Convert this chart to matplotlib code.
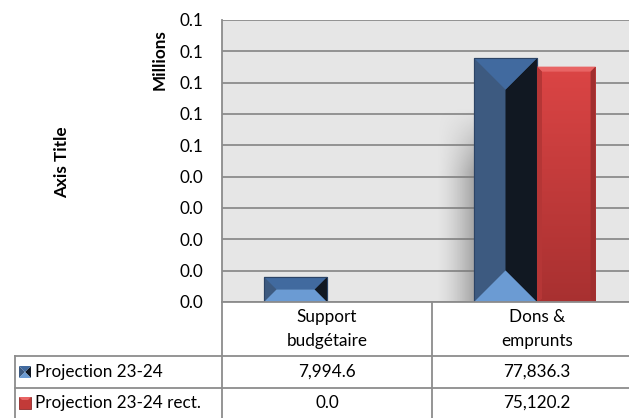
import matplotlib
matplotlib.use('Agg')
import matplotlib.pyplot as plt
import numpy as np
from matplotlib.patches import Polygon, Rectangle
from matplotlib.lines import Line2D
from decimal import Decimal, ROUND_HALF_UP

categories = ["Support\nbudgétaire", "Dons &\nemprunts"]
series_names = ["Projection 23-24", "Projection 23-24 rect."]
proj = [7994.6, 77836.3]
proj_rect = [0.0, 75120.2]
y_ticks = [0, 10000, 20000, 30000, 40000, 50000, 60000, 70000, 80000, 90000]

plt.rcParams['font.family'] = ['Lato', 'DejaVu Sans']
FS = 12.3

W, H = 629, 418
fig = plt.figure(figsize=(W / 100, H / 100), dpi=100)
fig.patch.set_facecolor('white')


def fx(px):
    return px / W


def fy(py):
    return 1 - py / H


# plot area (extends past the right edge like the original)
left, right, top, bottom = 222, 642, 20, 302
ax = fig.add_axes([fx(left), fy(bottom), fx(right - left), (bottom - top) / H])
ax.set_facecolor('#e6e6e6')
ax.set_xlim(-0.5, 1.5)
ax.set_ylim(0, 90000)
ax.set_yticks(y_ticks)
ax.set_yticklabels([str(Decimal(v / 1e6).quantize(Decimal('0.1'), rounding=ROUND_HALF_UP)) for v in y_ticks])
ax.tick_params(axis='y', length=0, pad=13.5, labelsize=FS)
ax.set_xticks([])
ax.yaxis.grid(True, color='#8c8c8c', linewidth=1.3)
ax.set_axisbelow(True)
for s in ['top', 'right', 'bottom']:
    ax.spines[s].set_visible(False)
ax.spines['left'].set_color('#8c8c8c')
ax.spines['left'].set_linewidth(1.3)

x = np.arange(len(categories))
bw = 0.3
bars1 = ax.bar(x - bw / 2, proj, bw, color='#3d5a80', edgecolor='#2c4466', linewidth=0.8, zorder=3)
bars2 = ax.bar(x + bw * 0.93 / 2, proj_rect, bw * 0.93, color='#c23a38', linewidth=0, zorder=3)

to_px = ax.transData.transform
to_data = ax.transData.inverted().transform

# soft shadow behind the tall bars (fades out towards the top and the left)
for b in bars1:
    if b.get_height() <= 0:
        continue
    (x0, y0) = to_px((b.get_x(), 0))
    (x1, y1) = to_px((b.get_x() + b.get_width(), b.get_height()))
    sh_top = y0 + (y1 - y0) * 0.8
    if sh_top - y0 < 40:
        continue
    n = 40
    img = np.zeros((n, n, 4))
    gx = np.linspace(0, 1, n)[None, :]
    gy = np.clip(np.linspace(0, 1, n)[:, None] * 3, 0, 1)
    img[..., :3] = 0.45
    img[..., 3] = 0.55 * gx ** 1.5 * gy
    (dx0, dy0) = to_data((x0 - 38, y0))
    (dx1, dy1) = to_data((x0, sh_top))
    ax.imshow(img, extent=[dx0, dx1, dy0, dy1], aspect='auto', zorder=2, interpolation='bilinear')

# bevelled faces for the blue series
for b in bars1:
    (x0, y0) = to_px((b.get_x(), 0))
    (x1, y1) = to_px((b.get_x() + b.get_width(), b.get_height()))
    d = min(x1 - x0, y1 - y0) / 2
    il = (x0 + d, y1 - d)
    ir = (x1 - d, y1 - d)
    bl = (x0 + d, y0 + d)
    br = (x1 - d, y0 + d)
    if (y1 - y0) < (x1 - x0):
        il = (x0 + d, (y0 + y1) / 2)
        ir = (x1 - d, (y0 + y1) / 2)
        bl, br = il, ir
    faces = [
        ([(x0, y0), (x0, y1), il, bl], '#3d5a80'),
        ([(x1, y0), (x1, y1), ir, br], '#111822'),
        ([(x0, y1), (x1, y1), ir, il], '#416a9f'),
        ([(x0, y0), (x1, y0), br, bl], '#6b9bd3'),
    ]
    for pts, c in faces:
        ax.add_patch(Polygon(to_data(pts), closed=True, facecolor=c, edgecolor='none', zorder=4))
    ax.add_patch(Rectangle((b.get_x(), 0), b.get_width(), b.get_height(), fill=False,
                           edgecolor='#2c4466', linewidth=0.8, zorder=5))

# gradient + top bevel for the red series
for b in bars2:
    if b.get_height() <= 0:
        continue
    grad = np.linspace(0, 1, 100)[:, None]
    c_top = np.array([0.86, 0.27, 0.27])
    c_bot = np.array([0.66, 0.19, 0.19])
    img = c_top * (1 - grad[..., None]) + c_bot * grad[..., None]
    img = np.repeat(img, 2, axis=1)
    im = ax.imshow(img, extent=[b.get_x(), b.get_x() + b.get_width(), 0, b.get_height()],
                   aspect='auto', zorder=4, interpolation='bilinear')
    im.set_clip_path(b)
    (x0, y0) = to_px((b.get_x(), 0))
    (x1, y1) = to_px((b.get_x() + b.get_width(), b.get_height()))
    e = 5
    ax.add_patch(Polygon(to_data([(x0, y1), (x1, y1), (x1 - e, y1 - e), (x0 + e, y1 - e)]),
                         facecolor='#e86464', edgecolor='none', zorder=5))
    ax.add_patch(Polygon(to_data([(x0, y1), (x0 + e, y1 - e), (x0 + e, y0 + 3), (x0, y0)]),
                         facecolor='#b53636', edgecolor='none', zorder=5))
    ax.add_patch(Polygon(to_data([(x1, y1), (x1 - e, y1 - e), (x1 - e, y0 + 3), (x1, y0)]),
                         facecolor='#a02e2e', edgecolor='none', zorder=5))

# axis titles
fig.text(fx(62), fy(162), "Axis Title", rotation=90, ha='center', va='center',
         fontsize=FS, fontweight='bold')
fig.text(fx(160), fy(60), "Millions", rotation=90, ha='center', va='center',
         fontsize=FS, fontweight='bold')

# data table underneath
line_kw = dict(color='#8c8c8c', linewidth=1.3, transform=fig.transFigure)
fig.add_artist(Line2D([fx(left), 1], [fy(bottom), fy(bottom)], **line_kw))
for yy in [356, 388]:
    fig.add_artist(Line2D([fx(15), 1], [fy(yy), fy(yy)], **line_kw))
fig.add_artist(Line2D([fx(15), fx(15)], [fy(356), 0], **line_kw))
fig.add_artist(Line2D([fx(left), fx(left)], [fy(bottom), 0], **line_kw))
fig.add_artist(Line2D([fx(432), fx(432)], [fy(bottom), 0], **line_kw))

col_centers = [to_px((xi, 0))[0] for xi in x]
for cx, cat in zip(col_centers, categories):
    fig.text(cx / W, fy(329), cat, ha='center', va='center', fontsize=FS, linespacing=1.6)

row_y = [372, 403]
for ry, name, vals in zip(row_y, series_names, [proj, proj_rect]):
    fig.text(fx(35), fy(ry), name, ha='left', va='center', fontsize=FS)
    for cx, v in zip(col_centers, vals):
        fig.text(cx / W, fy(ry), f"{v:,.1f}", ha='center', va='center', fontsize=FS)

# legend keys
kx0, kx1 = 19, 31
ky0, ky1 = 366, 378
mid = (kx0 + kx1) / 2
key_faces = [
    ([(kx0, ky0), (kx0, ky1), (mid, (ky0 + ky1) / 2)], '#3d5a80'),
    ([(kx1, ky0), (kx1, ky1), (mid, (ky0 + ky1) / 2)], '#111822'),
    ([(kx0, ky0), (kx1, ky0), (mid, (ky0 + ky1) / 2)], '#416a9f'),
    ([(kx0, ky1), (kx1, ky1), (mid, (ky0 + ky1) / 2)], '#6b9bd3'),
]
for pts, c in key_faces:
    fig.add_artist(Polygon([(fx(px), fy(py)) for px, py in pts], closed=True,
                           facecolor=c, edgecolor='none', transform=fig.transFigure))
ry0, ry1 = 397, 409
fig.add_artist(Polygon([(fx(kx0), fy(ry0)), (fx(kx1), fy(ry0)), (fx(kx1), fy(ry1)), (fx(kx0), fy(ry1))],
                       closed=True, facecolor='#c23a38', edgecolor='#8f2a2a', linewidth=0.6,
                       transform=fig.transFigure))
fig.add_artist(Polygon([(fx(kx0), fy(ry0)), (fx(kx1), fy(ry0)), (fx(kx1 - 3), fy(ry0 + 3)), (fx(kx0 + 3), fy(ry0 + 3))],
                       closed=True, facecolor='#e86464', edgecolor='none', transform=fig.transFigure))

fig.savefig('out.png', dpi=100)
